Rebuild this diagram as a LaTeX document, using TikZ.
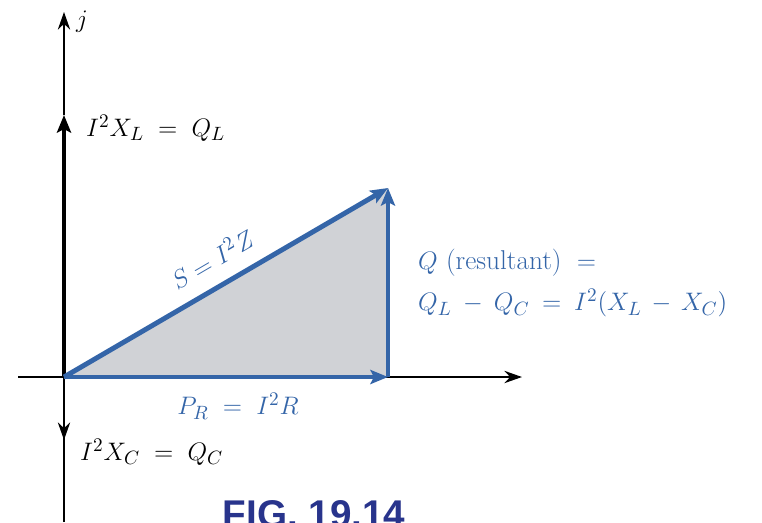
\documentclass[tikz,border=0pt]{standalone}
\usepackage{amsmath,amssymb}
\usepackage{fontspec}
\newfontfamily\figfont{Liberation Sans}
\usetikzlibrary{arrows.meta}
\definecolor{vecblue}{RGB}{52,101,168}
\definecolor{figblue}{RGB}{40,52,140}
\definecolor{trigray}{RGB}{208,210,214}
\tikzset{
  axis/.style={line width=1.1pt,-{Stealth[length=10pt,width=7pt]}},
  phasor/.style={vecblue,line width=2.8pt,-{Stealth[length=10pt,width=8pt,inset=2pt]}},
  lbl/.style={font=\fontsize{15.5}{19}\selectfont},
  bluelbl/.style={lbl,text=vecblue}
}
\begin{document}
\begin{tikzpicture}[x=0.02cm,y=-0.02cm]
  \useasboundingbox (0,0) rectangle (762,522);
  \coordinate (O) at (64,377);
  \coordinate (P) at (388,377);
  \coordinate (S) at (388,188);
  \coordinate (QL) at (64,115);
  \coordinate (QC) at (64,440);
  % shade the power triangle
  \fill[trigray] (O) -- (P) -- (S) -- cycle;
  % axes
  \draw[axis] (18,377) -- (522,377);
  \draw[line width=1.1pt] (64,522) -- (O);
  \draw[axis] (QL) -- (64,12);
  \draw[black,line width=2.8pt,-{Stealth[length=10pt,width=8pt,inset=2pt]}] (O) -- (QL);
  \draw[axis] (O) -- (QC);
  % power vectors
  \draw[phasor] (O) -- (P);
  \draw[phasor] (P) -- (S);
  \draw[phasor] (O) -- (S) node[midway,above=5pt,sloped,bluelbl] (Slbl) {$S = I^2Z$};
  \node[lbl,anchor=west] (jlbl) at (70,22) {$j$};
  \node[lbl,anchor=west] (QLlbl) at (80,128) {$I^2X_L \;=\; Q_L$};
  \node[lbl,anchor=west] (QClbl) at (74,452) {$I^2X_C \;=\; Q_C$};
  \node[bluelbl] (PRlbl) at (238,406) {$P_R \;=\; I^2R$};
  \node[bluelbl,anchor=west] (Qlbl1) at (412,263) {$Q$ (resultant) $\;=$};
  \node[bluelbl,anchor=west] (Qlbl2) at (412,303) {$Q_L \:-\: Q_C \:=\: I^2(X_L \,-\, X_C)$};
  \node[text=figblue,font=\figfont\bfseries\fontsize{22}{26}\selectfont] (fig) at (314,514) {FIG. 19.14};
\end{tikzpicture}
\end{document}
